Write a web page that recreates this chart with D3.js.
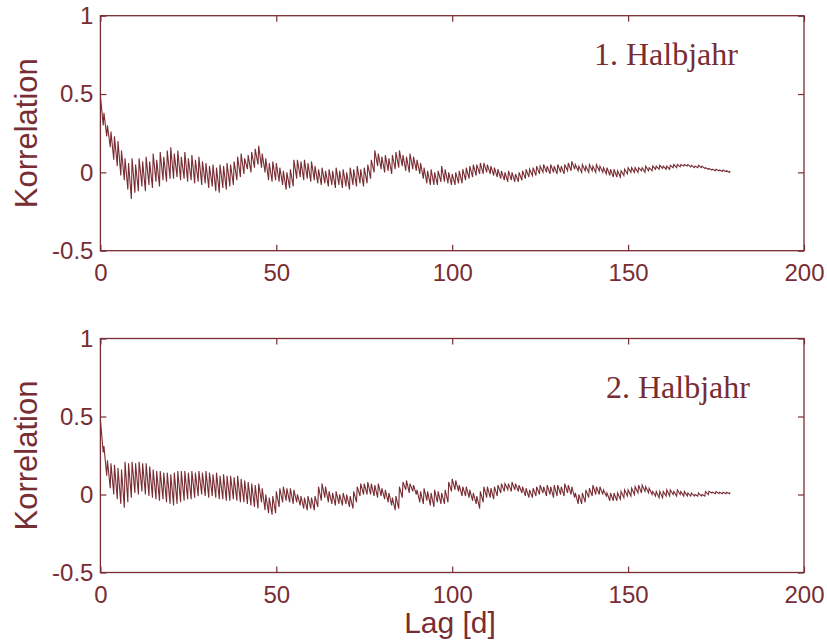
<!DOCTYPE html>
<html>
<head>
<meta charset="utf-8">
<script src="https://cdn.jsdelivr.net/npm/d3@7/dist/d3.min.js"></script>
<style>
  body { margin: 0; background: #fff; }
  svg { display: block; }
</style>
</head>
<body>
<div id="chart"></div>
<script>
// daily peak (hi) and trough before the next peak (lo) of the correlation, lag 0..179 d
const hi1 = [0.49,0.38,0.30,0.26,0.23,0.20,0.14,0.09,0.06,0.09,0.05,0.09,0.07,0.10,0.07,0.12,0.08,0.13,0.10,0.14,
  0.16,0.12,0.14,0.10,0.13,0.09,0.11,0.08,0.10,0.07,0.06,0.04,0.05,0.03,0.05,0.04,0.06,0.05,0.07,0.10,
  0.12,0.09,0.11,0.13,0.15,0.17,0.12,0.09,0.06,0.07,0.06,0.03,0.01,0.00,0.02,0.08,0.08,0.07,0.08,0.06,
  0.07,0.04,0.02,0.03,0.01,0.02,0.01,0.03,0.01,0.02,0.00,0.03,0.02,0.04,0.02,0.03,0.05,0.08,0.14,0.12,
  0.10,0.11,0.09,0.11,0.13,0.14,0.11,0.10,0.12,0.10,0.08,0.06,0.03,0.01,0.02,0.00,0.01,0.04,0.02,0.00,
  -0.01,0.00,0.01,0.02,0.03,0.04,0.05,0.05,0.06,0.06,0.05,0.04,0.03,0.02,0.01,0.00,0.01,0.00,-0.01,0.00,
  0.01,0.02,0.02,0.03,0.04,0.04,0.05,0.04,0.05,0.04,0.05,0.04,0.05,0.06,0.07,0.05,0.04,0.05,0.04,0.05,
  0.04,0.05,0.04,0.03,0.03,0.02,0.02,0.01,0.01,0.02,0.03,0.03,0.03,0.03,0.03,0.04,0.03,0.04,0.04,0.045,
  0.04,0.04,0.045,0.05,0.05,0.05,0.05,0.05,0.045,0.04,0.045,0.04,0.03,0.025,0.02,0.02,0.015,0.015,0.01,0.01];
const lo1 = [0.30,0.23,0.16,0.08,0.04,-0.02,-0.05,-0.11,-0.17,-0.13,-0.12,-0.09,-0.12,-0.08,-0.10,-0.06,-0.09,-0.05,-0.06,-0.04,
  -0.04,-0.03,-0.05,-0.04,-0.06,-0.05,-0.07,-0.06,-0.08,-0.07,-0.10,-0.09,-0.12,-0.13,-0.10,-0.11,-0.09,-0.08,-0.05,-0.03,
  -0.01,0.02,0.00,0.03,0.05,0.03,0.00,-0.05,-0.06,-0.05,-0.06,-0.08,-0.11,-0.10,-0.09,-0.04,-0.03,-0.05,-0.04,-0.06,
  -0.05,-0.07,-0.08,-0.07,-0.09,-0.08,-0.10,-0.08,-0.10,-0.09,-0.11,-0.08,-0.09,-0.07,-0.09,-0.07,-0.04,0.00,0.04,0.02,
  0.00,0.01,-0.01,0.02,0.03,0.04,0.01,0.00,0.02,0.01,-0.01,-0.04,-0.07,-0.08,-0.08,-0.08,-0.06,-0.06,-0.07,-0.08,
  -0.08,-0.07,-0.07,-0.05,-0.04,-0.03,-0.02,-0.01,-0.01,0.00,-0.01,-0.02,-0.03,-0.04,-0.05,-0.06,-0.05,-0.06,-0.06,-0.05,
  -0.04,-0.03,-0.02,-0.02,-0.01,0.00,0.00,-0.01,0.00,-0.01,0.00,-0.01,0.01,0.01,0.02,0.01,0.00,0.01,0.00,0.01,
  0.00,0.01,0.00,-0.01,-0.02,-0.03,-0.03,-0.03,-0.02,-0.01,0.00,0.00,0.00,0.01,0.00,0.01,0.01,0.02,0.02,0.025,
  0.02,0.02,0.03,0.03,0.035,0.04,0.04,0.035,0.03,0.03,0.03,0.025,0.02,0.015,0.01,0.01,0.005,0.005,0.00,0.00];

const hi2 = [0.48,0.31,0.22,0.20,0.19,0.17,0.16,0.21,0.20,0.21,0.20,0.21,0.20,0.20,0.18,0.16,0.15,0.15,0.14,0.14,
  0.13,0.14,0.15,0.15,0.15,0.14,0.15,0.14,0.15,0.14,0.15,0.14,0.13,0.14,0.12,0.13,0.12,0.12,0.11,0.12,
  0.10,0.09,0.08,0.07,0.06,0.07,0.04,0.00,-0.02,-0.01,0.02,0.04,0.05,0.04,0.04,0.03,0.00,-0.01,-0.02,-0.01,
  -0.02,-0.01,0.05,0.07,0.05,0.02,0.01,0.02,0.00,0.01,0.00,-0.01,0.02,0.05,0.07,0.07,0.08,0.07,0.06,0.07,
  0.04,0.03,0.01,-0.02,-0.01,0.05,0.08,0.09,0.07,0.06,0.03,0.02,0.04,0.02,0.01,0.03,0.02,0.01,0.03,0.08,
  0.10,0.09,0.06,0.05,0.05,0.03,0.01,-0.01,0.02,0.05,0.05,0.04,0.05,0.06,0.07,0.07,0.07,0.08,0.07,0.06,
  0.05,0.04,0.03,0.04,0.05,0.06,0.05,0.06,0.05,0.06,0.06,0.05,0.07,0.06,0.05,0.01,0.00,0.01,0.03,0.04,
  0.06,0.05,0.05,0.03,0.01,0.01,0.01,0.01,0.02,0.03,0.03,0.04,0.05,0.06,0.06,0.05,0.04,0.02,0.02,0.02,
  0.02,0.03,0.03,0.02,0.03,0.02,0.02,0.01,0.01,0.00,0.01,0.00,0.02,0.02,0.015,0.02,0.015,0.015,0.015,0.015];
const lo2 = [0.27,0.12,0.04,0.00,-0.03,-0.06,-0.085,-0.05,-0.02,0.01,0.00,0.02,0.00,-0.01,-0.02,-0.03,-0.04,-0.03,-0.05,-0.06,
  -0.07,-0.06,-0.05,-0.04,-0.03,-0.03,-0.02,-0.01,0.00,-0.01,-0.02,-0.01,-0.02,-0.03,-0.03,-0.04,-0.04,-0.03,-0.04,-0.05,
  -0.05,-0.06,-0.07,-0.08,-0.09,-0.05,-0.10,-0.12,-0.13,-0.12,-0.08,-0.05,-0.04,-0.05,-0.06,-0.05,-0.07,-0.09,-0.10,-0.09,
  -0.10,-0.08,-0.04,-0.02,-0.05,-0.06,-0.07,-0.06,-0.07,-0.06,-0.08,-0.09,-0.05,-0.01,0.00,0.00,0.00,-0.01,-0.02,-0.01,
  -0.03,-0.05,-0.07,-0.10,-0.09,-0.02,0.03,0.01,0.02,0.00,-0.05,-0.06,-0.04,-0.07,-0.08,-0.05,-0.06,-0.06,-0.05,0.02,
  0.03,0.02,-0.01,-0.01,-0.02,-0.04,-0.06,-0.09,-0.05,-0.02,-0.02,-0.03,-0.01,0.01,0.02,0.03,0.02,0.03,0.02,0.01,
  -0.01,-0.02,-0.02,-0.01,0.00,0.01,-0.01,0.00,-0.02,-0.01,0.00,-0.01,0.01,0.00,-0.02,-0.06,-0.06,-0.05,-0.02,-0.01,
  0.00,0.00,0.00,-0.01,-0.04,-0.04,-0.04,-0.03,-0.02,-0.01,-0.01,0.00,0.01,0.01,0.02,0.01,0.00,-0.01,-0.02,-0.02,
  -0.01,-0.01,0.00,-0.01,0.00,-0.01,-0.01,-0.01,-0.01,-0.01,-0.01,-0.01,0.00,0.01,0.005,0.005,0.005,0.005,0.005,0.01];

const panelTitles = ["1. Halbjahr", "2. Halbjahr"];
const xTicks = [0, 50, 100, 150, 200];
const yTicks = [-0.5, 0, 0.5, 1];

const color = "#782d33";
const W = 827, H = 643;

const svg = d3.select("#chart").append("svg")
    .attr("width", W)
    .attr("height", H)
    .style("font-family", "'Liberation Sans', Arial, sans-serif")
    .attr("fill", color);

const x = d3.scaleLinear().domain([0, 200]).range([100.4, 804]);

const panels = [
  { hi: hi1, lo: lo1, top: 15.7, bottom: 250.7, title: panelTitles[0], tx: 140.3, ty: 0.685 },
  { hi: hi2, lo: lo2, top: 338.5, bottom: 572.5, title: panelTitles[1], tx: 143.7, ty: 0.62 }
];

const fmt = d => String(d);

panels.forEach(p => {
  const y = d3.scaleLinear().domain([-0.5, 1]).range([p.bottom, p.top]);
  const g = svg.append("g");

  // slow decay from each daily peak to the trough, then a steep rise to the next peak
  const pts = [];
  p.hi.forEach((v, i) => {
    pts.push({ lag: i, v: v });
    if (i < p.hi.length - 1) pts.push({ lag: i + 0.8, v: p.lo[i] });
  });

  g.append("path")
      .datum(pts)
      .attr("d", d3.line().x(d => x(d.lag)).y(d => y(d.v)))
      .attr("fill", "none")
      .attr("stroke", color)
      .attr("stroke-width", 1.1);

  g.append("rect")
      .attr("x", x(0)).attr("y", p.top)
      .attr("width", x(200) - x(0)).attr("height", p.bottom - p.top)
      .attr("fill", "none")
      .attr("stroke", color)
      .attr("stroke-width", 1.3);

  const axes = [
    [d3.axisBottom(x).tickValues(xTicks).tickFormat(fmt).tickPadding(13), `translate(0,${p.bottom})`],
    [d3.axisTop(x).tickValues(xTicks).tickFormat(""), `translate(0,${p.top})`],
    [d3.axisLeft(y).tickValues(yTicks).tickFormat(fmt).tickPadding(7), `translate(${x(0)},0)`],
    [d3.axisRight(y).tickValues(yTicks).tickFormat(""), `translate(${x(200)},0)`]
  ];
  axes.forEach(([ax, tr]) => {
    const a = g.append("g")
        .attr("transform", tr)
        .call(ax.tickSizeInner(-6).tickSizeOuter(0));
    a.select(".domain").remove();
    a.selectAll("line").attr("stroke", color).attr("stroke-width", 1.2);
    a.selectAll("text")
        .attr("fill", color)
        .style("font-family", "'Liberation Sans', Arial, sans-serif")
        .style("font-size", "24px");
  });

  g.append("text")
      .attr("x", x(p.tx))
      .attr("y", y(p.ty))
      .style("font-family", "'Liberation Serif', 'Times New Roman', serif")
      .style("font-size", "32px")
      .text(p.title);

  g.append("text")
      .attr("transform", `translate(37,${(p.top + p.bottom) / 2}) rotate(-90)`)
      .attr("text-anchor", "middle")
      .style("font-size", "31px")
      .text("Korrelation");
});

svg.append("text")
    .attr("x", 450)
    .attr("y", 633)
    .attr("text-anchor", "middle")
    .style("font-size", "30px")
    .text("Lag [d]");
</script>
</body>
</html>
